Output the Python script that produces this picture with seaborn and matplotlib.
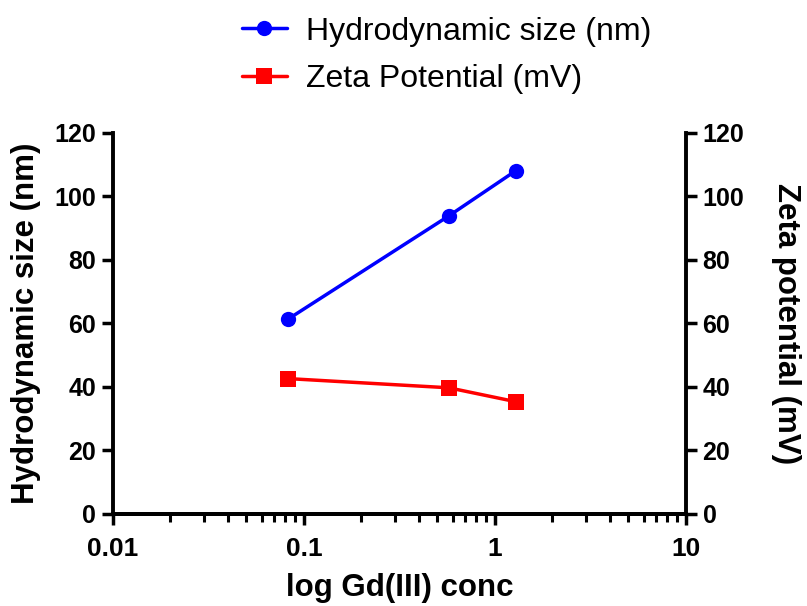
import numpy as np
import pandas as pd
import seaborn as sns
import matplotlib
matplotlib.use("Agg")
import matplotlib.pyplot as plt
from matplotlib.ticker import LogLocator, FixedLocator, FixedFormatter, NullFormatter

# values
gd_conc = [0.082, 0.573, 1.29]
hydro_size = [61.2, 93.8, 108.1]
zeta_pot = [42.6, 39.7, 35.3]
x_ticks = [0.01, 0.1, 1, 10]
x_tick_labels = ["0.01", "0.1", "1", "10"]
y_ticks = [0, 20, 40, 60, 80, 100, 120]

df = pd.DataFrame({"conc": gd_conc, "size": hydro_size, "zeta": zeta_pot})

sns.set_style("ticks")
plt.rcParams['font.family'] = ['Liberation Sans', 'DejaVu Sans']
plt.rcParams['text.color'] = 'black'
plt.rcParams['axes.labelcolor'] = 'black'
plt.rcParams['xtick.color'] = 'black'
plt.rcParams['ytick.color'] = 'black'
plt.rcParams['axes.edgecolor'] = 'black'

fig = plt.figure(figsize=(8.07, 6.06), dpi=100)
ax = fig.add_axes([0.140, 0.152, 0.710, 0.629])
ax2 = ax.twinx()

sns.lineplot(data=df, x="conc", y="size", ax=ax, color="#0000ff", marker="o",
             markersize=11, markeredgewidth=0, linewidth=2.5, label="Hydrodynamic size (nm)",
             legend=False)
sns.lineplot(data=df, x="conc", y="zeta", ax=ax2, color="#ff0000", marker="s",
             markersize=12, markeredgewidth=0, linewidth=2.5, label="Zeta Potential (mV)",
             legend=False)

for a in (ax, ax2):
    a.set_xscale("log")
    a.set_xlim(0.01, 10)
    a.set_ylim(0, 120)
    a.set_yticks(y_ticks)
    a.set_yticklabels([str(v) for v in y_ticks])
    a.tick_params(axis="both", which="major", direction="out", length=8, width=2.5,
                  labelsize=18, pad=4)
    a.tick_params(axis="x", which="minor", direction="out", length=6, width=2.2)
    a.spines["top"].set_visible(False)
    for s in ("left", "right", "bottom"):
        a.spines[s].set_linewidth(2.8)

ax.xaxis.set_major_locator(FixedLocator(x_ticks))
ax.xaxis.set_major_formatter(FixedFormatter(x_tick_labels))
ax.xaxis.set_minor_locator(LogLocator(base=10, subs=np.arange(2, 10)))
ax.xaxis.set_minor_formatter(NullFormatter())
ax.tick_params(axis="x", which="major", labelsize=19, pad=8.5)
for a in (ax, ax2):
    for lab in a.get_xticklabels() + a.get_yticklabels():
        lab.set_fontweight("bold")
ax.spines["right"].set_visible(False)
ax2.spines["left"].set_visible(False)

ax.set_xlabel("log Gd(III) conc", fontsize=22.5, fontweight="bold", labelpad=9)
ax.set_ylabel("Hydrodynamic size (nm)", fontsize=22.5, fontweight="bold", labelpad=10)
ax2.set_ylabel("Zeta potential (mV)", fontsize=22.5, fontweight="bold", rotation=270, labelpad=41)

h1, l1 = ax.get_legend_handles_labels()
h2, l2 = ax2.get_legend_handles_labels()
fig.legend(h1 + h2, l1 + l2, loc="upper left", bbox_to_anchor=(0.264, 1.02), frameon=False,
           fontsize=23, handlelength=1.4, handletextpad=0.6, labelspacing=0.55)

fig.savefig("out.png", dpi=100)
